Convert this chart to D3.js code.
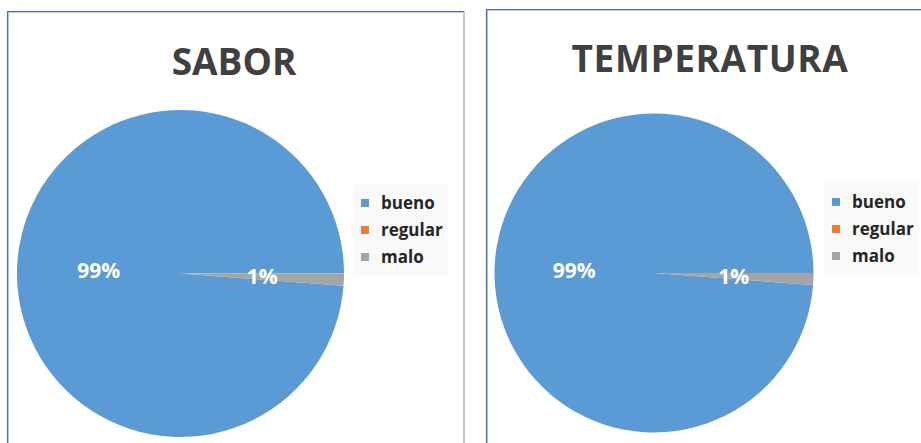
<!DOCTYPE html>
<html lang="es">
  <head>
    <meta charset="UTF-8" />
    <script src="https://d3js.org/d3.v7.min.js"></script>
    <style>
      body { margin: 0; background: #fff; }
      text { font-family: "Open Sans", sans-serif; }
    </style>
  </head>
  <body>
    <svg id="chart" width="921" height="443"></svg>
    <script>
      // data
      const categories = ["bueno", "regular", "malo"];
      const saborValues = [98.8, 0, 1.2];
      const temperaturaValues = [98.8, 0, 1.2];
      const titles = ["SABOR", "TEMPERATURA"];

      const colors = d3.scaleOrdinal()
        .domain(categories)
        .range(["#5b9bd5", "#ed7d31", "#a5a5a5"]);

      const svg = d3.select("#chart");

      // one box per chart
      const panels = [
        { title: titles[0], values: saborValues, x: 7, y: 11, w: 457,
          cx: 180.5, cy: 273.5, r: 163.5, titleX: 234, titleY: 75, legX: 353, legY: 184 },
        { title: titles[1], values: temperaturaValues, x: 486, y: 9, w: 457,
          cx: 654, cy: 273, r: 159.5, titleX: 710, titleY: 72, legX: 824, legY: 183 }
      ];

      const pct = d3.format(".0%");

      panels.forEach(function (p) {
        const g = svg.append("g");

        // chart area border (gray shadow + blue edge)
        g.append("rect")
          .attr("x", p.x + 1).attr("y", p.y + 1)
          .attr("width", p.w - 1).attr("height", 600)
          .attr("fill", "#fff")
          .attr("stroke", "#c8c8c8").attr("stroke-width", 2);
        g.append("path")
          .attr("d", `M${p.x + 0.5},${p.y + 600}V${p.y + 0.5}H${p.x + p.w}`)
          .attr("fill", "none")
          .attr("stroke", "#4a72b2").attr("stroke-width", 1.2);

        // title
        g.append("text")
          .attr("x", p.titleX).attr("y", p.titleY)
          .attr("text-anchor", "middle")
          .attr("font-size", 37).attr("font-weight", 700)
          .attr("letter-spacing", p.title.length > 6 ? 0.6 : 0)
          .attr("fill", "#404040")
          .text(p.title);

        // pie, rotated so the last slice starts at 3 o'clock
        const total = d3.sum(p.values);
        const lastShare = p.values[p.values.length - 1] / total;
        const start = Math.PI / 2 + lastShare * 2 * Math.PI;
        const pie = d3.pie().sort(null)
          .startAngle(start).endAngle(start + 2 * Math.PI);
        const arcs = pie(p.values).map((a, i) => Object.assign(a, { name: categories[i] }));
        const arc = d3.arc().innerRadius(0).outerRadius(p.r);

        const pg = g.append("g").attr("transform", `translate(${p.cx},${p.cy})`);
        pg.selectAll("path.slice")
          .data(arcs.filter(d => d.value > 0))
          .join("path")
          .attr("class", "slice")
          .attr("d", arc)
          .attr("fill", d => colors(d.name));

        pg.selectAll("text.lbl")
          .data(arcs.filter(d => d.value > 0))
          .join("text")
          .attr("class", "lbl")
          .attr("transform", d => `translate(${arc.centroid(d)})`)
          .attr("text-anchor", "middle")
          .attr("dy", "0.36em")
          .attr("font-size", 21).attr("font-weight", 700)
          .attr("fill", "#fff")
          .text(d => pct(d.value / total));

        // legend
        const lg = g.append("g").attr("transform", `translate(${p.legX},${p.legY})`);
        lg.append("rect")
          .attr("width", 95).attr("height", 92)
          .attr("fill", "#f9f9f9");
        const item = lg.selectAll("g.item")
          .data(categories)
          .join("g")
          .attr("class", "item")
          .attr("transform", (d, i) => `translate(8,${19 + i * 27})`);
        item.append("rect")
          .attr("y", -4).attr("width", 8).attr("height", 8)
          .attr("fill", d => colors(d));
        item.append("text")
          .attr("x", 20).attr("dy", "0.35em")
          .attr("font-size", 17).attr("font-weight", 700)
          .attr("fill", "#262626")
          .text(d => d);
      });
    </script>
  </body>
</html>
